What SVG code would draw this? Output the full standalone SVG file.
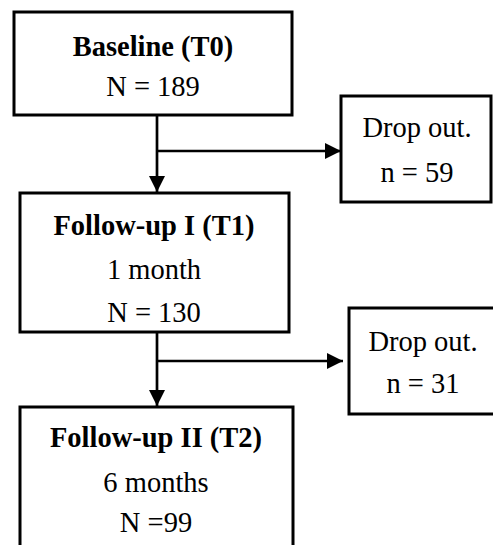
<svg xmlns="http://www.w3.org/2000/svg" width="493" height="545" viewBox="0 0 493 545">
<style>
.box{fill:#fff;stroke:#000;stroke-width:3}
.t{font-family:"Liberation Serif","Times New Roman",serif;font-size:28.5px;text-anchor:middle;fill:#000}
.b{font-weight:bold}
.ln{stroke:#000;stroke-width:2.7;fill:none}
</style>
<defs>
<marker id="ah" viewBox="0 0 10 10" refX="10" refY="5" markerWidth="6" markerHeight="6.2" markerUnits="strokeWidth" orient="auto">
<path d="M0,0 L10,5 L0,10 z" fill="#000"/>
</marker>
</defs>
<rect width="493" height="545" fill="#fff"/>
<g id="connectors">
<path class="ln" d="M157,116 V192" marker-end="url(#ah)"/>
<path class="ln" d="M157,151 H341" marker-end="url(#ah)"/>
<path class="ln" d="M157,332 V406" marker-end="url(#ah)"/>
<path class="ln" d="M157,361 H343" marker-end="url(#ah)"/>
</g>
<g id="baseline">
<rect class="box" x="14" y="12" width="278" height="103"/>
<text class="t b" x="153" y="56">Baseline (T0)</text>
<text class="t" x="153" y="96">N = 189</text>
</g>
<g id="dropout1">
<rect class="box" x="341" y="96" width="150" height="106"/>
<text class="t" x="417" y="137">Drop out.</text>
<text class="t" x="417" y="182">n = 59</text>
</g>
<g id="followup1">
<rect class="box" x="20" y="193" width="269" height="139"/>
<text class="t b" x="154" y="235">Follow-up I (T1)</text>
<text class="t" x="154" y="279">1 month</text>
<text class="t" x="154" y="322">N = 130</text>
</g>
<g id="dropout2">
<rect class="box" x="349" y="308" width="160" height="106"/>
<text class="t" x="423" y="351">Drop out.</text>
<text class="t" x="423" y="393">n = 31</text>
</g>
<g id="followup2">
<rect class="box" x="20" y="407" width="273" height="160"/>
<text class="t b" x="156" y="447">Follow-up II (T2)</text>
<text class="t" x="156" y="492">6 months</text>
<text class="t" x="156" y="532">N =99</text>
</g>
</svg>
